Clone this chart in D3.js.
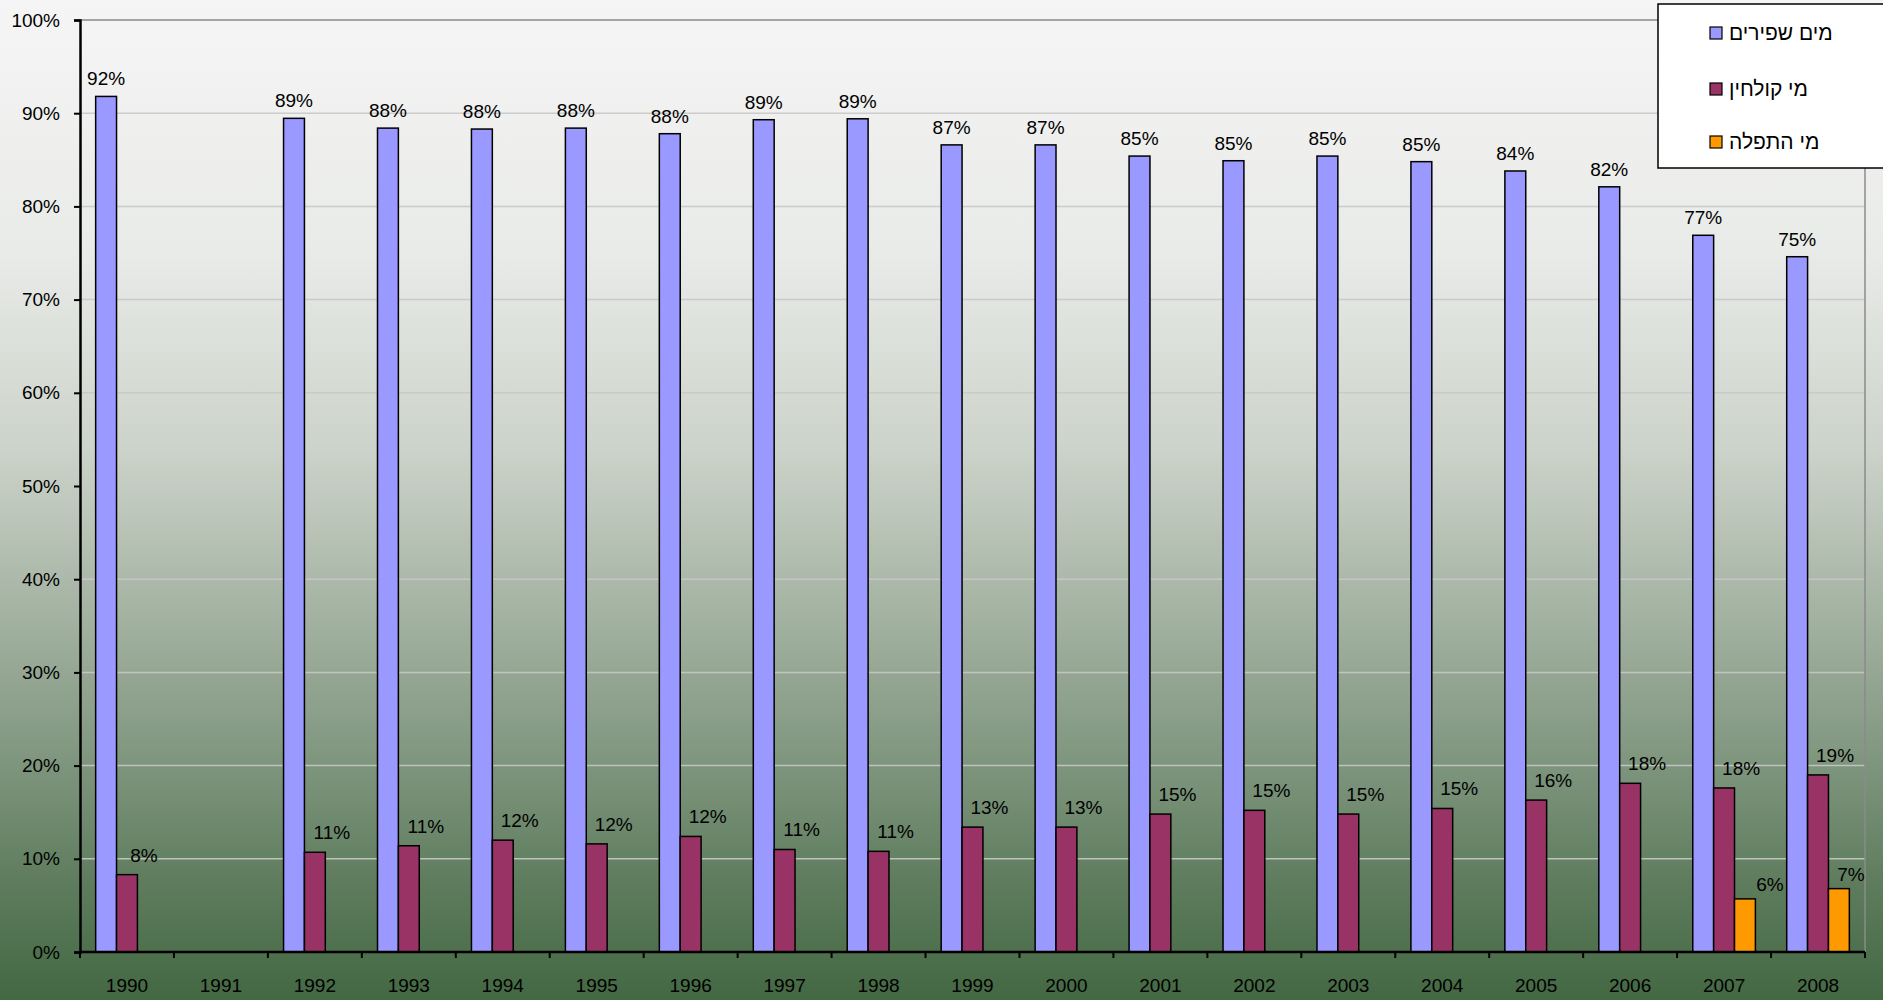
<!DOCTYPE html>
<html>
<head>
<meta charset="utf-8">
<script src="https://cdn.jsdelivr.net/npm/d3@7"></script>
<style>
  html, body { margin: 0; padding: 0; background: #fff; }
  svg { display: block; font-family: "Liberation Sans", Arial, Helvetica, sans-serif; }
</style>
</head>
<body>
<svg id="chart" width="1883" height="1000"></svg>
<script>
// Water sources share by year (percent)
const years = ["1990","1991","1992","1993","1994","1995","1996","1997","1998","1999",
               "2000","2001","2002","2003","2004","2005","2006","2007","2008"];
const freshWater    = [91.8, null, 89.45, 88.4, 88.3, 88.4, 87.8, 89.3, 89.4, 86.6,
                       86.6, 85.4, 84.9, 85.4, 84.8, 83.8, 82.1, 76.9, 74.6];
const brackishWater = [8.3, null, 10.7, 11.4, 12.0, 11.6, 12.4, 11.0, 10.8, 13.4,
                       13.4, 14.8, 15.2, 14.8, 15.4, 16.3, 18.1, 17.6, 19.0];
const desalWater    = [null, null, null, null, null, null, null, null, null, null,
                       null, null, null, null, null, null, null, 5.7, 6.8];
const seriesNames   = ["מים שפירים", "מי קולחין", "מי התפלה"];
const seriesColors  = ["#9999ff", "#993366", "#ff9900"];
const yTicks        = [0, 10, 20, 30, 40, 50, 60, 70, 80, 90, 100];

const seriesValues = [freshWater, brackishWater, desalWater];

const W = 1883, H = 1000;
const plot = { left: 80, right: 1865, top: 20, bottom: 952 };

const svg = d3.select("#chart");

// background gradient: light grey at top fading to dark green
const defs = svg.append("defs");
const grad = defs.append("linearGradient")
  .attr("id", "bg").attr("x1", 0).attr("y1", 0).attr("x2", 0).attr("y2", 1);
[[0, "#f5f5f5"], [0.25, "#e9ebe8"], [0.45, "#ccd3ca"], [0.6, "#a7b5a5"],
 [0.75, "#829881"], [0.88, "#5f7d5e"], [1, "#436842"]]
  .forEach(([o, c]) => grad.append("stop").attr("offset", o).attr("stop-color", c));
svg.append("rect").attr("width", W).attr("height", H).attr("fill", "url(#bg)");

const x = d3.scaleBand().domain(years).range([plot.left, plot.right]).paddingInner(0).paddingOuter(0);
// 150% gap between groups: outer padding of 0.75 bar widths on each side
const xs = d3.scaleBand().domain(d3.range(3)).range([0, x.bandwidth()]).paddingInner(0).paddingOuter(0.75);
const y = d3.scaleLinear().domain([0, 100]).range([plot.bottom, plot.top]);

// gridlines
svg.append("g").selectAll("line").data(yTicks.filter(d => d > 0 && d < 100)).join("line")
  .attr("x1", plot.left).attr("x2", plot.right)
  .attr("y1", d => y(d)).attr("y2", d => y(d))
  .attr("stroke", "#c8c8c8").attr("stroke-opacity", 0.9).attr("stroke-width", 1.5);

// plot area border (top and right)
svg.append("path")
  .attr("d", `M${plot.left},${y(100)}H${plot.right}V${plot.bottom}`)
  .attr("fill", "none").attr("stroke", "#8a8a8a").attr("stroke-width", 1.5);

// bars
const bars = [];
seriesValues.forEach((vals, s) => {
  vals.forEach((v, i) => { if (v != null) bars.push({ s, year: years[i], v }); });
});

svg.append("g").selectAll("rect").data(bars).join("rect")
  .attr("x", d => x(d.year) + xs(d.s))
  .attr("y", d => y(d.v))
  .attr("width", xs.bandwidth())
  .attr("height", d => y(0) - y(d.v))
  .attr("fill", d => seriesColors[d.s])
  .attr("stroke", "#000").attr("stroke-width", 1.5);

// value labels
const labelDx = [0, 17, 25];
const labelDy = [11, 13, 8];
svg.append("g").selectAll("text").data(bars).join("text")
  .attr("x", d => {
    const cx = x(d.year) + xs(d.s) + xs.bandwidth() / 2 + labelDx[d.s];
    return Math.min(cx, plot.right - 14);
  })
  .attr("y", d => y(d.v) - labelDy[d.s])
  .attr("text-anchor", "middle")
  .attr("font-size", 19).attr("fill", "#000")
  .text(d => Math.round(d.v) + "%");

// y axis
const yAxis = d3.axisLeft(y).tickValues(yTicks).tickSize(6).tickPadding(14)
  .tickFormat(d => d + "%");
const gy = svg.append("g").attr("transform", `translate(${plot.left},0)`).call(yAxis);
gy.select(".domain").attr("stroke", "#000").attr("stroke-width", 2.5);
gy.selectAll(".tick line").attr("stroke", "#000").attr("stroke-width", 2);
gy.selectAll(".tick text").attr("font-size", 19).attr("fill", "#000")
  .attr("font-family", "'Liberation Sans', Arial, sans-serif");

// x axis: ticks between categories
const gx = svg.append("g").attr("transform", `translate(0,${plot.bottom})`);
gx.append("line").attr("x1", plot.left).attr("x2", plot.right)
  .attr("stroke", "#000").attr("stroke-width", 2.5);
const boundaries = years.map(yr => x(yr)).concat([plot.right]);
gx.selectAll("line.tk").data(boundaries).join("line").attr("class", "tk")
  .attr("x1", d => d).attr("x2", d => d).attr("y1", 0).attr("y2", 6)
  .attr("stroke", "#000").attr("stroke-width", 2);
gx.selectAll("text").data(years).join("text")
  .attr("x", d => x(d) + x.bandwidth() / 2)
  .attr("y", 40)
  .attr("text-anchor", "middle")
  .attr("font-size", 19).attr("fill", "#000")
  .text(d => d);

// legend
const lg = svg.append("g");
lg.append("rect").attr("x", 1658).attr("y", 4).attr("width", 240).attr("height", 164)
  .attr("fill", "#fff").attr("stroke", "#000").attr("stroke-width", 1.5);
const legendY = [33, 89, 142];
seriesNames.forEach((name, s) => {
  lg.append("rect").attr("x", 1710).attr("y", legendY[s] - 6).attr("width", 12).attr("height", 12)
    .attr("fill", seriesColors[s]).attr("stroke", "#000").attr("stroke-width", 1.2);
  lg.append("text").attr("x", 1729).attr("y", legendY[s]).attr("dy", "0.35em")
    .attr("font-size", 21).attr("fill", "#000").text(name);
});
</script>
</body>
</html>
